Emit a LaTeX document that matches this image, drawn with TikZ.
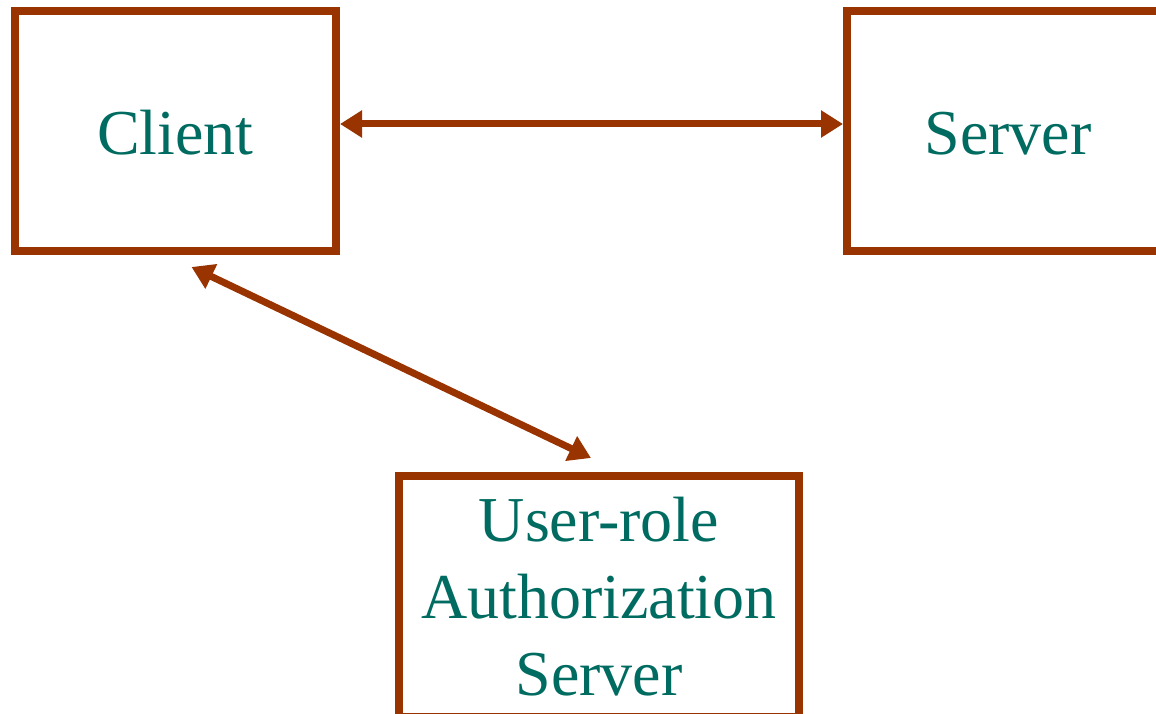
\documentclass[tikz,border=0pt]{standalone}
\usepackage{fontspec}
\setmainfont{Liberation Serif}
\usetikzlibrary{arrows.meta}
\definecolor{boxred}{HTML}{993300}
\definecolor{txtteal}{HTML}{006B60}
\tikzset{
  box/.style={draw=boxred, line width=8bp, rectangle, inner sep=0pt,
    text=txtteal, align=center,
    font=\fontsize{64bp}{76.8bp}\selectfont},
  onebox/.style={box, text height=48bp, text depth=0pt},
  link/.style={draw=boxred, line width=7bp,
    {Triangle[length=22bp,width=26bp]}-{Triangle[length=22bp,width=26bp]}}
}
\begin{document}
\begin{tikzpicture}[x=1bp,y=-1bp]
\useasboundingbox (0,0) rectangle (1156,714);
\node[onebox, minimum width=321bp, minimum height=240bp] (client) at (175.5,131) {Client};
\node[onebox, minimum width=322bp, minimum height=240bp] (server) at (1008,131) {Server};
\node[box, minimum width=400bp, minimum height=241bp] (auth) at (599,596.5) {User-role\\Authorization\\Server};
\draw[link] ([yshift=7bp]client.east) -- ([yshift=7bp]server.west);
\draw[link] ([shift={(16,12)}]client.south) -- ([shift={(-8,-14)}]auth.north);
\end{tikzpicture}
\end{document}
